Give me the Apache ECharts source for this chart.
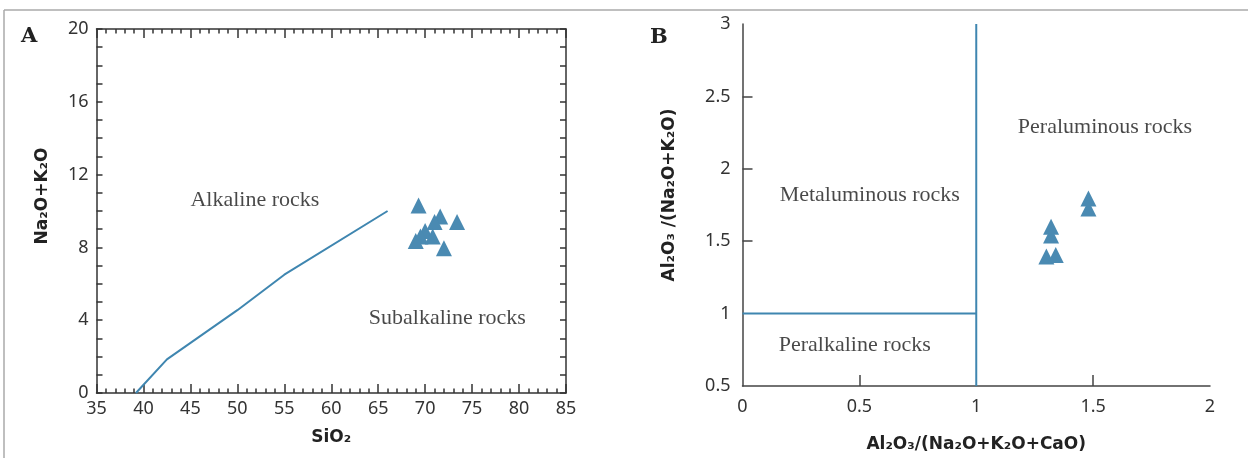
<!DOCTYPE html>
<html>
<head>
<meta charset="utf-8">
<script src="https://cdn.jsdelivr.net/npm/echarts@6/dist/echarts.min.js"></script>
<style>
    html, body { margin: 0; padding: 0; background: #fff; }
    #chart { width: 1248px; height: 458px; }
</style>
</head>
<body>
<div id="chart"></div>
<script>
// A: TAS diagram (SiO2 vs Na2O+K2O)
var tas_boundary = [[39.2, 0], [42.5, 1.85], [50, 4.55], [55, 6.5], [66, 10]];
var tas_samples = [
    [69.3, 10.3], [71.6, 9.7], [73.4, 9.4], [71.0, 9.4], [70.0, 8.9],
    [69.0, 8.35], [69.5, 8.6], [70.8, 8.6], [72.0, 7.95]
];
var tas_regions = [[45, 10.6, 'Alkaline rocks'], [64, 4.1, 'Subalkaline rocks']];

// B: A/CNK vs A/NK
var acnk_vertical = [[1, 0.5], [1, 3]];
var acnk_horizontal = [[0, 1], [1, 1]];
var acnk_samples = [
    [1.30, 1.395], [1.34, 1.405], [1.32, 1.54], [1.32, 1.60], [1.48, 1.725], [1.48, 1.795]
];
var acnk_regions = [[1.178, 2.29, 'Peraluminous rocks'], [0.159, 1.82, 'Metaluminous rocks'], [0.155, 0.78, 'Peralkaline rocks']];

var blue = '#4a8ab2';
var line_blue = '#3f86b0';
var frame = '#333';
var tick_font = { color: '#333', fontFamily: 'Noto Sans', fontSize: 18 };
var title_font = { color: '#222', fontFamily: 'DejaVu Sans', fontWeight: 'bold', fontSize: 17 };
var region_font = { color: '#1a1a1a', fontFamily: "'Liberation Serif', serif", fontSize: 22 };

function region_series(x, y, data) {
    return {
        type: 'scatter',
        xAxisIndex: x,
        yAxisIndex: y,
        symbolSize: 0,
        silent: true,
        data: data,
        label: {
            show: true,
            position: 'right',
            distance: 0,
            formatter: function (p) { return p.value[2]; },
            color: region_font.color,
            fontFamily: region_font.fontFamily,
            fontSize: region_font.fontSize
        }
    };
}

var chart = echarts.init(document.getElementById('chart'));

var frame_line = { show: true, onZero: false, lineStyle: { color: frame, width: 1.5 } };
var b_line = { show: true, onZero: false, lineStyle: { color: '#444', width: 1.5 } };

option = {
    animation: false,
    backgroundColor: '#fff',
    title: [{
        text: 'A', left: 21, top: 26, padding: 0,
        textStyle: { fontFamily: 'DejaVu Serif', fontWeight: 'bold', fontSize: 21, color: '#222' }
    }, {
        text: 'B', left: 650, top: 27, padding: 0,
        textStyle: { fontFamily: 'DejaVu Serif', fontWeight: 'bold', fontSize: 21, color: '#222' }
    }],
    graphic: [
        // outer figure border
        { type: 'line', shape: { x1: 4, y1: 10, x2: 1248, y2: 10 }, style: { stroke: '#aaa', lineWidth: 1.5 } },
        { type: 'line', shape: { x1: 4, y1: 10, x2: 4, y2: 458 }, style: { stroke: '#aaa', lineWidth: 1.5 } }
    ],
    grid: [
        { left: 96.5, top: 29, width: 469.5, height: 364 },
        { left: 742.5, top: 24, width: 467.5, height: 363.5 }
    ],
    xAxis: [{
        gridIndex: 0, type: 'value', min: 35, max: 85, interval: 5,
        name: 'SiO₂', nameLocation: 'middle', nameGap: 36, nameTextStyle: title_font,
        axisLine: frame_line,
        axisTick: { inside: true, length: 9, lineStyle: { color: frame, width: 1.5 } },
        minorTick: { show: true, splitNumber: 5, length: 4.5, lineStyle: { color: frame, width: 1.5 } },
        axisLabel: { margin: 7, color: tick_font.color, fontFamily: tick_font.fontFamily, fontSize: tick_font.fontSize },
        splitLine: { show: false }
    }, {
        gridIndex: 0, type: 'value', position: 'top', min: 35, max: 85, interval: 5,
        axisLine: frame_line,
        axisTick: { inside: true, length: 9, lineStyle: { color: frame, width: 1.5 } },
        minorTick: { show: true, splitNumber: 5, length: 4.5, lineStyle: { color: frame, width: 1.5 } },
        axisLabel: { show: false },
        splitLine: { show: false }
    }, {
        gridIndex: 1, type: 'value', min: 0, max: 2, interval: 0.5,
        name: 'Al₂O₃/(Na₂O+K₂O+CaO)', nameLocation: 'middle', nameGap: 50, nameTextStyle: title_font,
        axisLine: b_line,
        axisTick: { inside: true, length: 11, customValues: [0.5, 1.5], lineStyle: { color: '#444', width: 1.5 } },
        axisLabel: { margin: 12, color: tick_font.color, fontFamily: tick_font.fontFamily, fontSize: tick_font.fontSize },
        splitLine: { show: false }
    }],
    yAxis: [{
        gridIndex: 0, type: 'value', min: 0, max: 20, interval: 4,
        name: 'Na₂O+K₂O', nameLocation: 'middle', nameRotate: 90, nameGap: 45,
        nameTextStyle: Object.assign({ padding: [0, 0, 0, 30] }, title_font),
        axisLine: frame_line,
        axisTick: { inside: true, length: 6, lineStyle: { color: frame, width: 1.5 } },
        minorTick: { show: true, splitNumber: 4, length: 6, lineStyle: { color: frame, width: 1.5 } },
        axisLabel: { margin: 8, color: tick_font.color, fontFamily: tick_font.fontFamily, fontSize: tick_font.fontSize },
        splitLine: { show: false }
    }, {
        gridIndex: 0, type: 'value', position: 'right', min: 0, max: 20, interval: 4,
        axisLine: frame_line,
        axisTick: { inside: true, length: 6, lineStyle: { color: frame, width: 1.5 } },
        minorTick: { show: true, splitNumber: 4, length: 6, lineStyle: { color: frame, width: 1.5 } },
        axisLabel: { show: false },
        splitLine: { show: false }
    }, {
        gridIndex: 1, type: 'value', min: 0.5, max: 3, interval: 0.5,
        name: 'Al₂O₃ /(Na₂O+K₂O)', nameLocation: 'middle', nameRotate: 90, nameGap: 64,
        nameTextStyle: Object.assign({ padding: [0, 0, 0, 20] }, title_font),
        axisLine: b_line,
        axisTick: { inside: true, length: 10, customValues: [1.5, 2, 2.5], lineStyle: { color: '#444', width: 1.5 } },
        axisLabel: { margin: 12, color: tick_font.color, fontFamily: tick_font.fontFamily, fontSize: tick_font.fontSize },
        splitLine: { show: false }
    }],
    series: [{
        type: 'line', xAxisIndex: 0, yAxisIndex: 0,
        data: tas_boundary, symbol: 'none', silent: true,
        lineStyle: { color: line_blue, width: 2 }
    }, {
        type: 'scatter', xAxisIndex: 0, yAxisIndex: 0,
        data: tas_samples, symbol: 'triangle', symbolSize: 16,
        itemStyle: { color: blue, opacity: 1 }
    },
    region_series(0, 0, tas_regions),
    {
        type: 'line', xAxisIndex: 2, yAxisIndex: 2,
        data: acnk_vertical, symbol: 'none', silent: true,
        lineStyle: { color: line_blue, width: 2 }
    }, {
        type: 'line', xAxisIndex: 2, yAxisIndex: 2,
        data: acnk_horizontal, symbol: 'none', silent: true,
        lineStyle: { color: line_blue, width: 2 }
    }, {
        type: 'scatter', xAxisIndex: 2, yAxisIndex: 2,
        data: acnk_samples, symbol: 'triangle', symbolSize: 16,
        itemStyle: { color: blue, opacity: 1 }
    },
    region_series(2, 2, acnk_regions)]
};

chart.setOption(option);
</script>
</body>
</html>
